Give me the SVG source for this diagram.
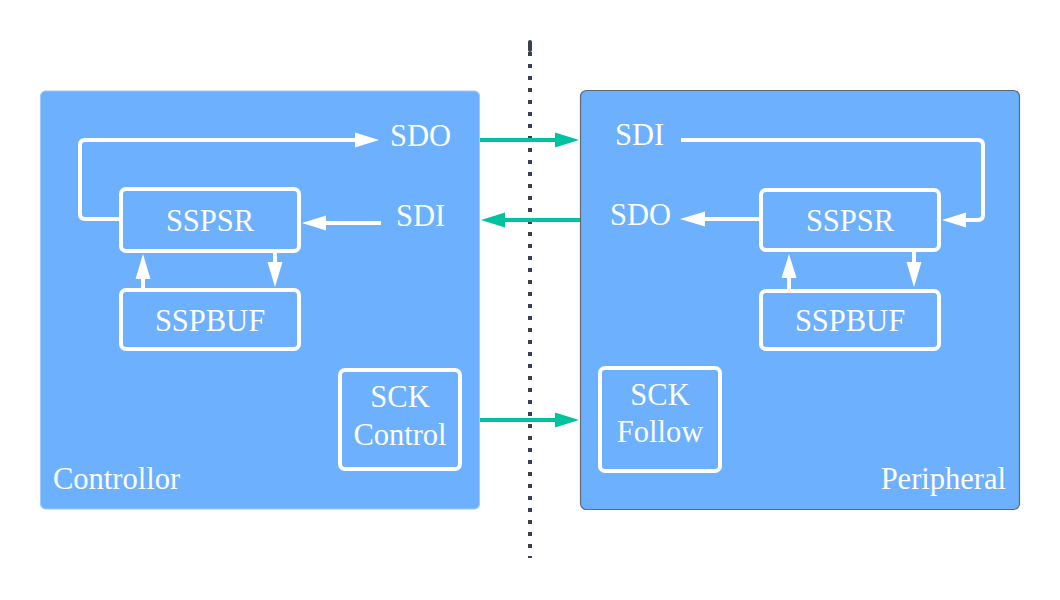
<svg xmlns="http://www.w3.org/2000/svg" width="1060" height="600" viewBox="0 0 1060 600">
<defs>
<style>
.panel{fill:#6db0fe}
.box{fill:none;stroke:#ffffff;stroke-width:4}
.wl{fill:none;stroke:#ffffff;stroke-width:4;stroke-linejoin:round}
.tl{fill:none;stroke:#00c29f;stroke-width:4}
.t{font-family:"Liberation Serif","Times New Roman",serif;font-size:30.5px;fill:#ffffff}
.c{text-anchor:middle}
.wa{fill:#ffffff}
.ta{fill:#00c29f}
</style>
</defs>
<rect width="1060" height="600" fill="#ffffff"/>
<line x1="530" y1="42" x2="530" y2="50" stroke="#3b404d" stroke-width="4" stroke-linecap="round"/>
<line x1="530" y1="52" x2="530" y2="558" stroke="#3b404d" stroke-width="4" stroke-dasharray="4 8"/>
<g id="controller">
<rect class="panel" x="40.5" y="91" width="439" height="418" rx="5" stroke="#9cc8ff" stroke-width="1"/>
<text class="t" x="53" y="489">Controllor</text>
</g>
<g id="peripheral">
<rect class="panel" x="580.5" y="90.5" width="439" height="419" rx="6" stroke="#5e6877" stroke-width="1.2"/>
<text class="t" x="1006" y="489" text-anchor="end">Peripheral</text>
</g>
<g id="c-sspsr"><rect class="box" x="121" y="189" width="178" height="62" rx="5"/><text class="t c" x="210" y="231">SSPSR</text></g>
<g id="c-sspbuf"><rect class="box" x="121" y="290" width="178" height="59" rx="5"/><text class="t c" x="210" y="331">SSPBUF</text></g>
<g id="c-sdo"><text class="t" x="390" y="146">SDO</text></g>
<g id="c-sdi"><text class="t" x="396" y="226">SDI</text></g>
<g id="c-sck"><rect class="box" x="340" y="370" width="120" height="99" rx="5"/><text class="t c" x="400" y="407">SCK</text><text class="t c" x="400" y="445">Control</text></g>
<g id="p-sspsr"><rect class="box" x="761" y="190" width="178" height="60" rx="5"/><text class="t c" x="850" y="231">SSPSR</text></g>
<g id="p-sspbuf"><rect class="box" x="761" y="291" width="178" height="58" rx="5"/><text class="t c" x="850" y="331">SSPBUF</text></g>
<g id="p-sdi"><text class="t" x="615" y="145">SDI</text></g>
<g id="p-sdo"><text class="t" x="610" y="225">SDO</text></g>
<g id="p-sck"><rect class="box" x="600" y="368" width="120" height="103" rx="5"/><text class="t c" x="660" y="405">SCK</text><text class="t c" x="660" y="442">Follow</text></g>
<g id="connectors">
<path class="wl" d="M121 219 H85 Q80 219 80 214 V145 Q80 140 85 140 H357"/>
<polygon class="wa" points="379,140 355,132.5 355,147.5"/>
<path class="wl" d="M381 223 H325"/>
<polygon class="wa" points="302,223 326,215.5 326,230.5"/>
<path class="wl" d="M143 289 V277"/>
<polygon class="wa" points="143,254 135.5,279 150.5,279"/>
<path class="wl" d="M275 251 V263"/>
<polygon class="wa" points="275,287 267.5,262 282.5,262"/>
<path class="wl" d="M681 140 H978 Q983 140 983 145 V215 Q983 220 978 220 H965"/>
<polygon class="wa" points="942,220 966,212.5 966,227.5"/>
<path class="wl" d="M759 219 H703"/>
<polygon class="wa" points="680,219 705,211.5 705,226.5"/>
<path class="wl" d="M789 289 V276"/>
<polygon class="wa" points="789,254 781.5,278 796.5,278"/>
<path class="wl" d="M914 250 V263"/>
<polygon class="wa" points="914,287 906.5,262 921.5,262"/>
<path class="tl" d="M480 140 H557"/>
<polygon class="ta" points="579,140 555,132.5 555,147.5"/>
<path class="tl" d="M580 220 H503"/>
<polygon class="ta" points="481,220 505,212.5 505,227.5"/>
<path class="tl" d="M480 420 H557"/>
<polygon class="ta" points="579,420 555,412.5 555,427.5"/>
</g>
</svg>
